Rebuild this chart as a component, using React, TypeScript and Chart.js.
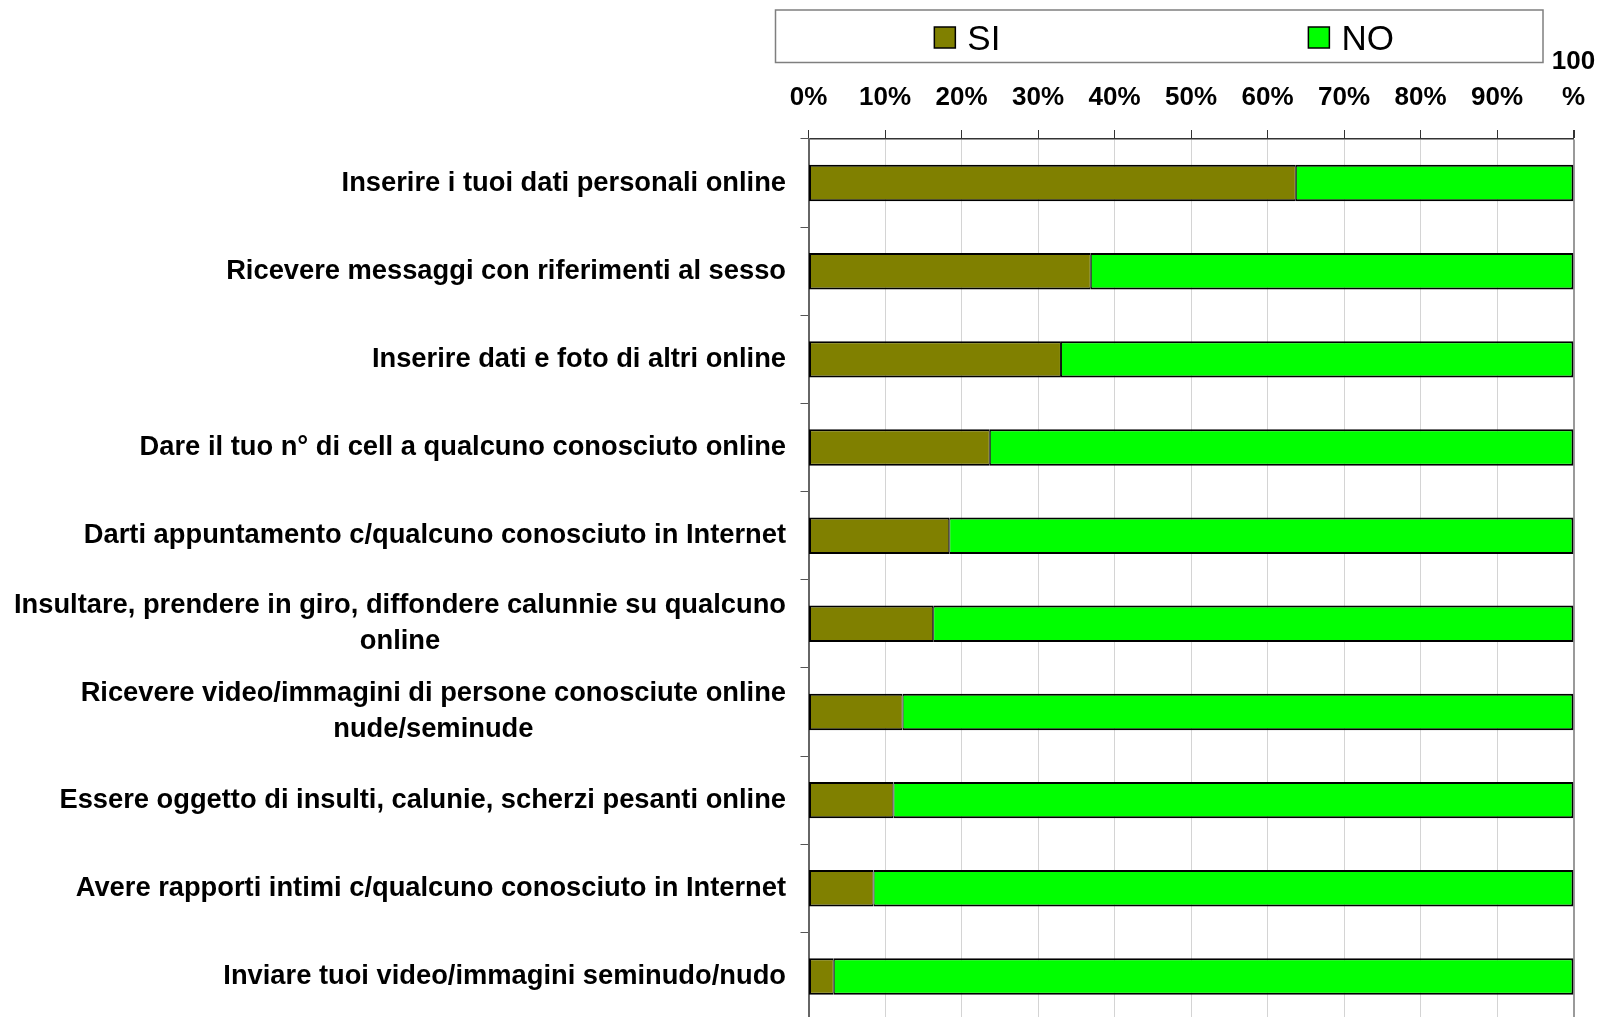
import React, { useEffect, useRef } from 'react';
import { Chart, registerables } from 'chart.js';

Chart.register(...registerables);

const FONT = "'Liberation Sans', Arial, sans-serif";

const categories: (string | string[])[] = [
  'Inserire i tuoi dati personali online',
  'Ricevere messaggi con riferimenti al sesso',
  'Inserire dati e foto di altri online',
  'Dare il tuo n° di cell a qualcuno conosciuto online',
  'Darti appuntamento c/qualcuno conosciuto in Internet',
  ['Insultare, prendere in giro, diffondere calunnie su qualcuno', 'online'],
  ['Ricevere video/immagini di persone conosciute online', 'nude/seminude'],
  'Essere oggetto di insulti, calunie, scherzi pesanti online',
  'Avere rapporti intimi c/qualcuno conosciuto in Internet',
  'Inviare tuoi video/immagini seminudo/nudo',
];

const siValues = [63.7, 36.9, 33.0, 23.7, 18.4, 16.3, 12.3, 11.1, 8.5, 3.3];
const noValues = [36.3, 63.1, 67.0, 76.3, 81.6, 83.7, 87.7, 88.9, 91.5, 96.7];

const seriesLabels = ['SI', 'NO'];
const seriesColors = ['#808000', '#00FF00'];

const xTickLabels: (string | string[])[] = [
  '0%', '10%', '20%', '30%', '40%', '50%', '60%', '70%', '80%', '90%', ['100', '%'],
];

// Legend drawn in a framed box above the plot (items centred in each half)
const boxLegend = {
  id: 'boxLegend',
  afterDraw(chart: any) {
    const ctx = chart.ctx;
    const bx = 775.5, by = 10, bw = 767.5, bh = 52.5;
    ctx.save();
    ctx.fillStyle = '#ffffff';
    ctx.fillRect(bx, by, bw, bh);
    ctx.strokeStyle = '#7f7f7f';
    ctx.lineWidth = 1.5;
    ctx.strokeRect(bx, by, bw, bh);
    ctx.font = `35px ${FONT}`;
    ctx.textBaseline = 'alphabetic';
    ctx.textAlign = 'left';
    const n = chart.data.datasets.length;
    chart.data.datasets.forEach((ds: any, i: number) => {
      const label = ds.label as string;
      const tw = ctx.measureText(label).width;
      const itemW = 21 + 12 + tw;
      const cx = bx + (bw * (2 * i + 1)) / (2 * n);
      const x0 = cx - itemW / 2;
      ctx.fillStyle = ds.backgroundColor;
      ctx.fillRect(x0, 27, 21, 21);
      ctx.strokeStyle = '#000';
      ctx.lineWidth = 1.5;
      ctx.strokeRect(x0, 27, 21, 21);
      ctx.fillStyle = '#000';
      ctx.fillText(label, x0 + 33, 50);
    });
    ctx.restore();
  },
};

// Category labels: block right-aligned to the axis, lines centred within the block
const categoryLabels = {
  id: 'categoryLabels',
  afterDraw(chart: any) {
    const ctx = chart.ctx;
    const yScale = chart.scales.y;
    const right = yScale.right - 8 - 14.5;
    const lh = 36;
    ctx.save();
    ctx.font = `bold 27.3px ${FONT}`;
    ctx.fillStyle = '#000';
    ctx.textBaseline = 'middle';
    ctx.textAlign = 'center';
    (chart.data.labels as any[]).forEach((lab: any, i: number) => {
      const lines: string[] = Array.isArray(lab) ? lab : [lab];
      const widest = Math.max(...lines.map((l) => ctx.measureText(l).width));
      const cx = right - widest / 2;
      const yc = yScale.getPixelForTick(i);
      lines.forEach((l, j) => {
        ctx.fillText(l, cx, yc + (j - (lines.length - 1) / 2) * lh);
      });
    });
    ctx.restore();
  },
};

export default function App() {
  const ref = useRef<HTMLCanvasElement | null>(null);

  useEffect(() => {
    if (!ref.current) return;
    const chart = new Chart(ref.current, {
      type: 'bar',
      data: {
        labels: categories as any,
        datasets: [
          {
            label: seriesLabels[0],
            data: siValues,
            backgroundColor: seriesColors[0],
            borderColor: '#000',
            borderWidth: { top: 2, bottom: 2, left: 2, right: 1 } as any,
            borderSkipped: false,
            barPercentage: 0.413,
            categoryPercentage: 1,
          },
          {
            label: seriesLabels[1],
            data: noValues,
            backgroundColor: seriesColors[1],
            borderColor: '#000',
            borderWidth: { top: 2, bottom: 2, left: 1, right: 2 } as any,
            borderSkipped: false,
            barPercentage: 0.413,
            categoryPercentage: 1,
          },
        ],
      },
      options: {
        indexAxis: 'y',
        responsive: false,
        animation: false,
        devicePixelRatio: 1,
        layout: { padding: { top: 0, left: 0, right: 26.5, bottom: 9.5 } },
        plugins: {
          legend: { display: false },
          tooltip: { enabled: false },
        },
        scales: {
          x: {
            position: 'top',
            stacked: true,
            min: 0,
            max: 100,
            ticks: {
              stepSize: 10,
              color: '#000',
              font: { family: FONT, size: 26, weight: 'bold', lineHeight: 36 / 26 },
              padding: 14.5,
              maxRotation: 0,
              minRotation: 0,
              autoSkip: false,
              callback: (_v: any, i: number) => xTickLabels[i],
            },
            grid: {
              color: (c: any) => (c.tick && c.tick.value === 100 ? '#9a9a9a' : '#d4d4d4'),
              lineWidth: (c: any) => (c.tick && c.tick.value === 100 ? 2 : 1),
              tickColor: '#333',
              tickLength: 9,
              drawTicks: true,
            },
            border: { color: '#333', width: 1.5 },
            afterFit: (s: any) => {
              s.height = 139;
              s.paddingLeft = 0;
              s.paddingRight = 0;
            },
          } as any,
          y: {
            stacked: true,
            ticks: {
              display: false,
              autoSkip: false,
            },
            grid: {
              drawOnChartArea: false,
              drawTicks: true,
              tickLength: 8,
              tickColor: '#555',
              offset: true,
            },
            border: { color: '#666', width: 2 },
            afterFit: (s: any) => {
              s.width = 808.5;
              s.paddingTop = 0;
              s.paddingBottom = 0;
            },
          } as any,
        },
      },
      plugins: [boxLegend, categoryLabels],
    });
    return () => chart.destroy();
  }, []);

  return (
    <div
      style={{
        position: 'fixed',
        left: 0,
        top: 0,
        width: 1600,
        height: 1017,
        overflow: 'hidden',
        background: '#fff',
      }}
    >
      <canvas ref={ref} width={1600} height={1030} style={{ width: 1600, height: 1030, display: 'block' }} />
    </div>
  );
}
